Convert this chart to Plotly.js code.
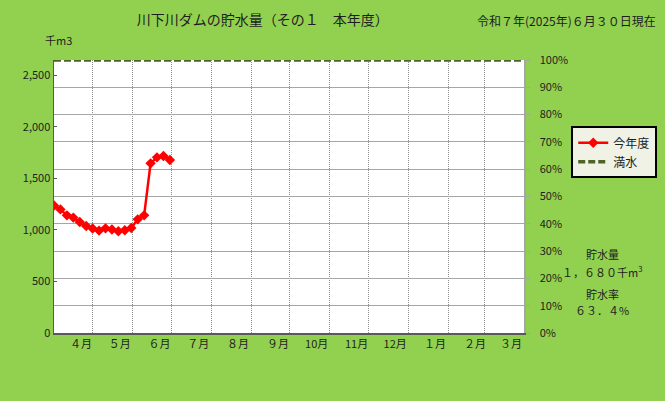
<!DOCTYPE html>
<html>
<head>
<meta charset="utf-8">
<script src="https://cdn.plot.ly/plotly-3.0.1.min.js"></script>
<style>
  html, body { margin: 0; padding: 0; background: #92d050; }
  #chart { width: 665px; height: 401px; }
</style>
</head>
<body>
<div id="chart"></div>
<script>
// storage readings every 5 days (千m3)
var DATES = ['2025-04-01', '2025-04-06', '2025-04-11', '2025-04-16', '2025-04-21', '2025-04-26',
             '2025-05-01', '2025-05-06', '2025-05-11', '2025-05-16', '2025-05-21', '2025-05-26',
             '2025-05-31', '2025-06-05', '2025-06-10', '2025-06-15', '2025-06-20', '2025-06-25',
             '2025-06-30'];
var STORAGE = [1238, 1200, 1142, 1120, 1077, 1039, 1014, 994, 1016, 1004, 987, 997,
               1019, 1103, 1142, 1647, 1705, 1718, 1680];
var FULL = 2650;
var YEAR_SPAN = ['2025-04-01', '2026-04-01'];

var MONTH_VALS = ['2025-04-01', '2025-05-01', '2025-06-01', '2025-07-01', '2025-08-01', '2025-09-01',
                  '2025-10-01', '2025-11-01', '2025-12-01', '2026-01-01', '2026-02-01', '2026-03-01'];
var MONTH_TEXT = ['４月', '５月', '６月', '７月', '８月', '９月', '10月', '11月', '12月', '１月', '２月', '３月'];

var FONT = '"Noto Sans CJK JP", "Noto Sans", sans-serif';
var INK = '#1e1e1e';

var data = [
    {
        x: DATES,
        y: STORAGE,
        name: '今年度',
        mode: 'lines+markers',
        line: {color: '#ff0000', width: 2.5},
        marker: {symbol: 'diamond', size: 8, color: '#ff0000'},
        hoverinfo: 'none'
    },
    {
        x: YEAR_SPAN,
        y: [FULL, FULL],
        name: '満水',
        mode: 'lines',
        line: {color: '#4f6228', width: 3.5, dash: '7px,3px'},
        hoverinfo: 'none'
    },
    // empty trace on y2 so the percentage axis and its grid get drawn
    {x: [YEAR_SPAN[0]], y: [null], yaxis: 'y2', showlegend: false, hoverinfo: 'none'}
];

// side notes, placed in paper units
function note(text, x, y, size){
    return {text: text, xref: 'paper', yref: 'paper', x: x, y: y,
            xanchor: 'center', yanchor: 'middle', showarrow: false,
            font: {family: FONT, size: size, color: INK}};
}

var layout = {
    width: 665,
    height: 401,
    paper_bgcolor: '#92d050',
    plot_bgcolor: '#ffffff',
    margin: {l: 54, r: 141, t: 60, b: 68},
    font: {family: FONT, size: 11, color: INK},
    title: {
        text: '川下川ダムの貯水量（その１　本年度）',
        font: {family: FONT, size: 14, color: INK},
        x: 0.395, xref: 'container', xanchor: 'center',
        y: 0.95, yref: 'container', yanchor: 'middle'
    },
    showlegend: true,
    legend: {
        xref: 'container', yref: 'container',
        x: 0.859, y: 0.685, xanchor: 'left', yanchor: 'top',
        bgcolor: '#eff2e4',
        bordercolor: '#000000',
        borderwidth: 2,
        font: {family: FONT, size: 12, color: INK},
        tracegroupgap: 0
    },
    xaxis: {
        type: 'date',
        range: YEAR_SPAN,
        tickvals: MONTH_VALS,
        ticktext: MONTH_TEXT,
        ticks: '',
        ticklabelshift: 27,
        showgrid: true,
        gridcolor: '#8c8c8c',
        griddash: '1px,1px',
        gridwidth: 1,
        showline: true,
        linecolor: '#595959',
        linewidth: 1.5,
        zeroline: false,
        automargin: false,
        tickfont: {family: FONT, size: 11, color: INK}
    },
    yaxis: {
        range: [0, FULL],
        tickvals: [0, 500, 1000, 1500, 2000, 2500],
        tickformat: ',',
        ticks: 'inside',
        ticklen: 3,
        tickcolor: '#595959',
        showgrid: false,
        zeroline: false,
        showline: true,
        linecolor: '#595959',
        linewidth: 1.5,
        automargin: false,
        tickfont: {family: FONT, size: 11, color: INK}
    },
    yaxis2: {
        overlaying: 'y',
        side: 'right',
        range: [0, 100],
        dtick: 10,
        ticksuffix: '%',
        ticks: 'outside',
        ticklen: 4,
        tickcolor: '#a6a6a6',
        ticklabelstandoff: 8,
        showgrid: true,
        gridcolor: '#a6a6a6',
        gridwidth: 1,
        zeroline: false,
        showline: true,
        linecolor: '#a6a6a6',
        linewidth: 1.5,
        automargin: false,
        tickfont: {family: FONT, size: 11, color: INK}
    },
    annotations: [
        note('令和７年(2025年)６月３０日現在', 1.091, 1.145, 12),
        note('千m3', 0.01, 1.072, 11),
        note('貯水量', 1.166, 0.29, 11),
        note('１，６８０千m<sup>3</sup>', 1.166, 0.226, 11),
        note('貯水率', 1.166, 0.142, 11),
        note('６３．４%', 1.166, 0.085, 11)
    ]
};

Plotly.newPlot('chart', data, layout, {staticPlot: true});
</script>
</body>
</html>
